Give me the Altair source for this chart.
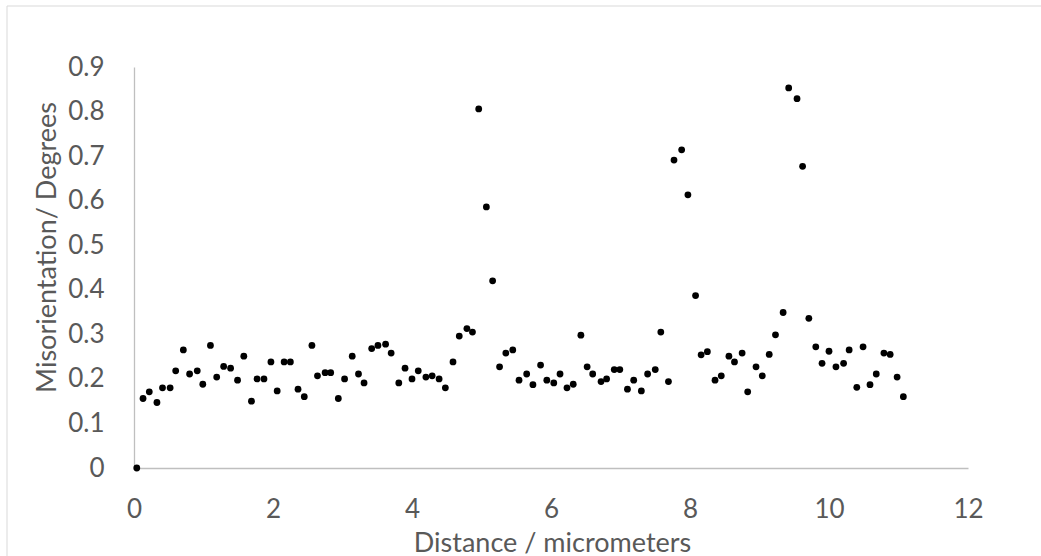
import altair as alt
import pandas as pd

distance = [0.04, 0.13, 0.22, 0.33, 0.41, 0.52, 0.60, 0.71, 0.80, 0.91,
            0.99, 1.10, 1.19, 1.29, 1.39, 1.49, 1.58, 1.69, 1.77, 1.87,
            1.97, 2.06, 2.16, 2.25, 2.36, 2.45, 2.56, 2.64, 2.75, 2.83,
            2.94, 3.03, 3.14, 3.23, 3.31, 3.42, 3.51, 3.62, 3.70, 3.81,
            3.90, 4.00, 4.09, 4.20, 4.29, 4.39, 4.48, 4.59, 4.68, 4.79,
            4.87, 4.96, 5.07, 5.16, 5.26, 5.35, 5.45, 5.54, 5.65, 5.74,
            5.85, 5.94, 6.04, 6.13, 6.23, 6.32, 6.43, 6.52, 6.60, 6.72,
            6.80, 6.91, 6.99, 7.10, 7.19, 7.30, 7.39, 7.50, 7.58, 7.69,
            7.77, 7.88, 7.97, 8.08, 8.16, 8.25, 8.36, 8.45, 8.56, 8.64,
            8.75, 8.83, 8.95, 9.04, 9.14, 9.23, 9.34, 9.42, 9.54, 9.62,
            9.71, 9.81, 9.90, 10.00, 10.10, 10.21, 10.29, 10.40, 10.49, 10.59,
            10.68, 10.79, 10.88, 10.98, 11.07]

misorientation = [0.000, 0.156, 0.171, 0.147, 0.180, 0.180, 0.218, 0.265, 0.211, 0.218,
                  0.188, 0.275, 0.204, 0.228, 0.224, 0.197, 0.251, 0.150, 0.200, 0.200,
                  0.238, 0.173, 0.238, 0.238, 0.177, 0.160, 0.275, 0.207, 0.214, 0.214,
                  0.156, 0.200, 0.251, 0.211, 0.191, 0.268, 0.275, 0.278, 0.258, 0.191,
                  0.224, 0.200, 0.218, 0.204, 0.207, 0.200, 0.180, 0.238, 0.296, 0.313,
                  0.305, 0.806, 0.586, 0.420, 0.227, 0.258, 0.265, 0.197, 0.211, 0.187,
                  0.231, 0.197, 0.191, 0.211, 0.180, 0.188, 0.298, 0.227, 0.211, 0.194,
                  0.200, 0.221, 0.221, 0.177, 0.197, 0.173, 0.211, 0.221, 0.305, 0.194,
                  0.691, 0.714, 0.613, 0.387, 0.254, 0.261, 0.197, 0.207, 0.251, 0.238,
                  0.258, 0.171, 0.227, 0.207, 0.255, 0.299, 0.349, 0.853, 0.829, 0.677,
                  0.336, 0.272, 0.235, 0.262, 0.227, 0.235, 0.265, 0.181, 0.272, 0.187,
                  0.211, 0.258, 0.255, 0.204, 0.160]

x_ticks = [0, 2, 4, 6, 8, 10, 12]
y_ticks = [0, 0.1, 0.2, 0.3, 0.4, 0.5, 0.6, 0.7, 0.8, 0.9]

df = pd.DataFrame({"distance": distance, "misorientation": misorientation})

W, H = 834, 401
LEFT, TOP = 134, 67
LFS = 26
TFS = 27

points = alt.Chart(df).mark_circle(size=46, color="#000000", opacity=1).encode(
    x=alt.X("distance:Q",
            scale=alt.Scale(domain=[0, 12], nice=False, zero=True),
            axis=alt.Axis(values=x_ticks, title="Distance / micrometers",
                          grid=False, ticks=False, domain=True,
                          domainColor="#BFBFBF", domainWidth=1.3,
                          labelFont="Lato", labelFontSize=LFS, labelColor="#595959",
                          labelPadding=28, labelFlush=False, format="~g",
                          titleFont="Lato", titleFontSize=TFS, titleColor="#595959",
                          titleFontWeight="normal",
                          titleX=418, titleY=75, titleAnchor="start",
                          titleAlign="center", titleBaseline="middle")),
    y=alt.Y("misorientation:Q",
            scale=alt.Scale(domain=[0, 0.9], nice=False),
            axis=alt.Axis(values=y_ticks, title="Misorientation/ Degrees",
                          grid=False, ticks=False, domain=True,
                          domainColor="#BFBFBF", domainWidth=1.3,
                          labelFont="Lato", labelFontSize=LFS, labelColor="#595959",
                          labelPadding=30, labelFlush=False, format=".1~f",
                          titleFont="Lato", titleFontSize=TFS, titleColor="#595959",
                          titleFontWeight="normal",
                          titleX=-87, titleY=180, titleAngle=-90,
                          titleAlign="center", titleBaseline="middle")),
)

border = alt.Chart(alt.Data(values=[{"a": 1}])).mark_rect(
    fill=None, stroke="#D9D9D9", strokeWidth=1
).encode(
    x=alt.value(7 - LEFT), x2=alt.value(1041 - LEFT + 10),
    y=alt.value(6 - TOP), y2=alt.value(556 - TOP + 10),
)

chart = alt.layer(border, points).properties(
    width=W, height=H,
    autosize=alt.AutoSizeParams(type="none"),
    padding={"left": LEFT, "top": TOP, "right": 1041 - LEFT - W, "bottom": 556 - TOP - H},
    background="#FFFFFF",
).configure_view(stroke=None)

chart.save("out.html", embed_options={"renderer": "svg", "actions": False})
